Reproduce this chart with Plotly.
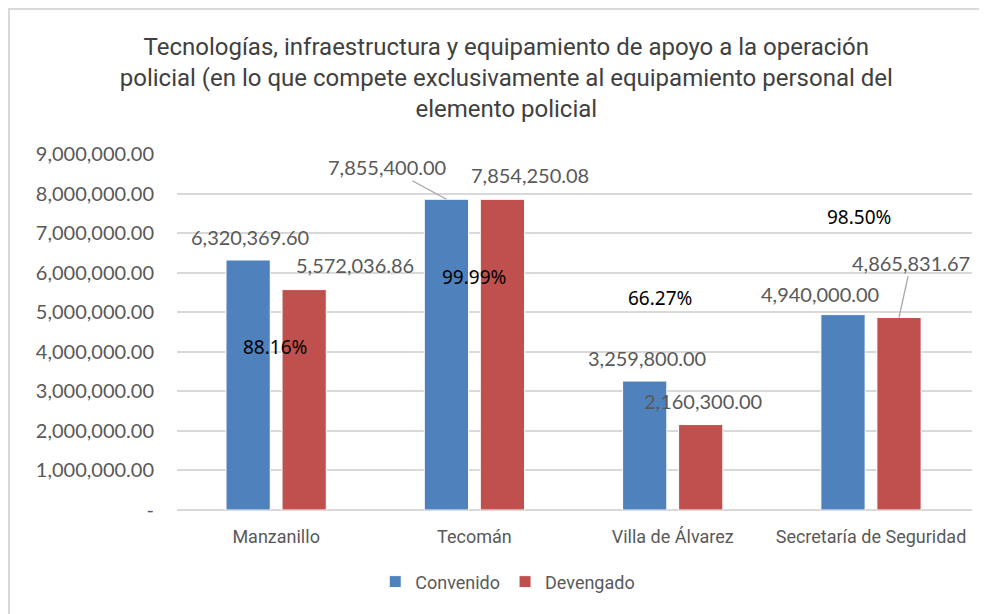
import plotly.graph_objects as go

# Datos del gráfico
categories = ["Manzanillo", "Tecomán", "Villa de Álvarez", "Secretaría de Seguridad"]
convenido = [6320369.60, 7855400.00, 3259800.00, 4940000.00]
devengado = [5572036.86, 7854250.08, 2160300.00, 4865831.67]
avance = [88.16, 99.99, 66.27, 98.50]

y_ticks = [0, 1e6, 2e6, 3e6, 4e6, 5e6, 6e6, 7e6, 8e6, 9e6]
y_ticktext = ["-"] + [f"{v:,.2f}" for v in y_ticks[1:]]

BLUE = "#4F81BD"
RED = "#C0504D"
GRAY = "#595959"
LABEL_FONT = dict(family="Lato", size=20, color=GRAY)
NARROW = "Roboto"

fig = go.Figure()
fig.add_trace(go.Bar(x=categories, y=convenido, name="Convenido", marker_color=BLUE,
                     marker_line=dict(color="white", width=1)))
fig.add_trace(go.Bar(x=categories, y=devengado, name="Devengado", marker_color=RED,
                     marker_line=dict(color="white", width=1)))

# etiquetas de valor (desplazamientos en px respecto al centro de la categoria / tope de la barra)
conv_offsets = [(-26, 23), None, (-26, 23), (-51, 21)]
dev_offsets = [(79, 25), (56, 24), (30, 24), None]
for cat, val, off in zip(categories, convenido, conv_offsets):
    if off is None:
        continue
    fig.add_annotation(x=cat, y=val, text=f"{val:,.2f}", showarrow=False,
                       xshift=off[0], yshift=off[1], font=LABEL_FONT)
for cat, val, off in zip(categories, devengado, dev_offsets):
    if off is None:
        continue
    fig.add_annotation(x=cat, y=val, text=f"{val:,.2f}", showarrow=False,
                       xshift=off[0], yshift=off[1], font=LABEL_FONT)

# etiquetas con linea guia
fig.add_annotation(x=categories[1], y=convenido[1], text=f"{convenido[1]:,.2f}",
                   showarrow=True, arrowhead=0, arrowwidth=1.3, arrowcolor="#A6A6A6",
                   xshift=-28, ax=-59, ay=-32, font=LABEL_FONT)
fig.add_annotation(x=categories[3], y=devengado[3], text=f"{devengado[3]:,.2f}",
                   showarrow=True, arrowhead=0, arrowwidth=1.3, arrowcolor="#A6A6A6",
                   xshift=28, ax=12, ay=-55, font=LABEL_FONT)

# porcentajes de avance
pct_pos = [(-1.5, 4.12e6), (0, 5.89e6), (-13, 5.36e6), (-12, 7.41e6)]
for cat, pct, (dx, yv) in zip(categories, avance, pct_pos):
    fig.add_annotation(x=cat, y=yv, text=f"{pct:.2f}%", showarrow=False, xshift=dx,
                       font=dict(family="Noto Sans", size=19, color="black"))

# marco del gráfico
fig.add_shape(type="rect", xref="paper", yref="paper",
              x0=-0.2113, x1=1.2, y0=-0.6, y1=1.4073,
              line=dict(color="#D9D9D9", width=2), fillcolor="rgba(0,0,0,0)", layer="below")

fig.update_layout(
    width=979, height=606,
    margin=dict(l=169, r=15, t=146, b=104),
    paper_bgcolor="white", plot_bgcolor="white",
    barmode="group", bargap=0.435, bargroupgap=0.21,
    title=dict(
        text="Tecnologías, infraestructura y equipamiento de apoyo a la operación<br>"
             "policial (en lo que compete exclusivamente al equipamiento personal del<br>"
             "elemento policial",
        x=0.509, xanchor="center", xref="container",
        y=1 - 47 / 606, yanchor="top", yref="container",
        font=dict(family=NARROW, size=24, color="#404040"),
    ),
    yaxis=dict(range=[0, 9e6], tickvals=y_ticks, ticktext=y_ticktext,
               showgrid=True, gridcolor="#D9D9D9", gridwidth=2,
               zeroline=True, zerolinecolor="#D9D9D9", zerolinewidth=2,
               ticklabelstandoff=22, tickfont=LABEL_FONT, showline=False),
    xaxis=dict(tickfont=dict(family=NARROW, size=18, color=GRAY),
               ticklabelstandoff=14, showline=False),
    legend=dict(orientation="h", x=0.416, xanchor="center", y=-0.202, yanchor="middle",
                font=dict(family=NARROW, size=18, color=GRAY),
                itemwidth=30, traceorder="normal"),
)

fig.write_html("out.html")
